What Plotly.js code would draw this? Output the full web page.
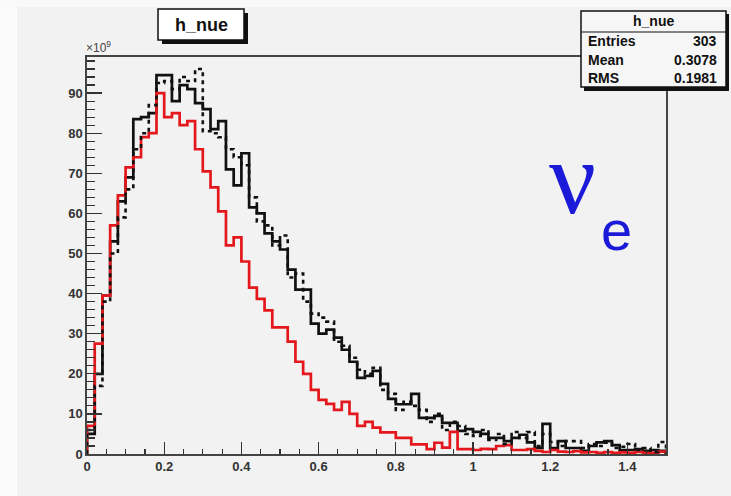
<!DOCTYPE html>
<html>
<head>
<meta charset="utf-8">
<script src="https://cdn.plot.ly/plotly-3.0.1.min.js"></script>
<style>
html,body{margin:0;padding:0;background:#f2f2f2;}
#chart{width:731px;height:496px;}
</style>
</head>
<body>
<div id="chart"></div>
<script>
// ---- data (units of 10^9), 75 bins of width 0.02 from 0 to 1.5 ----
const histName = "h_nue";
const statLabels = ["Entries", "Mean", "RMS"];
const statValues = ["303", "0.3078", "0.1981"];
const xTickLabels = ["0", "0.2", "0.4", "0.6", "0.8", "1", "1.2", "1.4"];
const binWidth = 0.02;
const nBins = 75;
const xMax = 1.5;

const blackSolid = [5, 20, 39.5, 53, 63, 69, 83.5, 84, 85, 94.5,
  94.5, 88, 92, 91, 87.5, 86, 81, 83, 71, 67,
  75, 61.5, 60, 55, 53, 51, 46, 41, 41, 32.5,
  30, 31, 29, 26, 23, 19, 19.5, 20.75, 17.5, 13.75,
  12.4, 12.4, 15, 9, 9, 9.5, 7.75, 7.75, 5.75, 6.2,
  5.5, 5, 4, 4, 3.2, 4, 4.8, 2.9, 1.5, 7.5,
  1.5, 3.2, 1.5, 1.5, 0.8, 2, 2.9, 3.2, 2.2, 1,
  1, 1.2, 0.8, 1, 0.8];

const blackDashed = [6, 17, 38, 50, 59, 66, 76, 80, 87, 92.5,
  93, 91, 94, 93, 96, 80.5, 80, 79, 76, 74,
  72, 64, 58, 57, 52, 54.5, 44, 45, 38, 35,
  34, 33, 28, 27, 24, 21, 20, 21.5, 16, 15,
  11, 13, 12, 11, 8, 10, 6, 8, 7, 5,
  4.5, 6, 3.5, 5, 2.5, 5.5, 4, 5.5, 2, 5,
  3, 2, 3.2, 3.2, 1.5, 2.5, 2, 2.8, 1.5, 1.8,
  2.5, 1, 1.5, 0.5, 3];

const redSolid = [7, 27.5, 39.5, 57, 64.5, 71.5, 74, 79, 80, 90,
  84, 85, 82, 83, 76, 70.5, 66.5, 60.5, 52, 54,
  48, 41.5, 38.7, 35.8, 31.6, 31.6, 28, 23, 20, 16,
  13.5, 12.5, 11, 13, 10, 7, 8, 6.6, 5.4, 5.4,
  4, 4, 2.4, 2.4, 1.2, 2.8, 1.6, 5.5, 1.2, 1.2,
  1, 1.3, 1.2, 2, 2.2, 1, 1, 1.2, 0.8, 0.5,
  1, 0.6, 0.5, 0.7, 0.4, 0.5, 0.3, 0.5, 0.3, 0.4,
  0.3, 0.5, 0.2, 0.3, 0.6];

// ---- helpers ----
const binLow = Array.from({length: nBins}, (_, i) => +(i * binWidth).toFixed(4));
function stepTrace(vals, color, dash, width) {
  const xs = [0].concat(binLow).concat([xMax, xMax]);
  const ys = [0].concat(vals).concat([vals[vals.length - 1], 0]);
  return {
    x: xs, y: ys, type: "scatter", mode: "lines",
    line: {shape: "hv", color: color, width: width, dash: dash},
    hoverinfo: "skip", cliponaxis: true
  };
}

// pixel -> paper conversion for decorations
const L = 87, R = 666, T = 57, B = 454;
const px = v => (v - L) / (R - L);
const py = v => (B - v) / (B - T);

const traces = [
  stepTrace(blackSolid, "#111111", "solid", 2.7),
  stepTrace(redSolid, "#e4181c", "solid", 2.7),
  stepTrace(blackDashed, "#111111", "4px,4px", 2.6)
];

const font = "Liberation Sans, Arial, Helvetica, sans-serif";

const shapes = [
  // whitish photo edges
  {type: "rect", xref: "paper", yref: "paper", x0: px(0), x1: px(17), y0: py(496), y1: py(0),
   fillcolor: "#fbfbfb", line: {width: 0}, layer: "below"},
  {type: "rect", xref: "paper", yref: "paper", x0: px(0), x1: px(731), y0: py(7), y1: py(0),
   fillcolor: "#f9f9f9", line: {width: 0}, layer: "below"},
  // title box shadow + box
  {type: "rect", xref: "paper", yref: "paper", x0: px(162), x1: px(248), y0: py(44), y1: py(13),
   fillcolor: "#111", line: {width: 0}},
  {type: "rect", xref: "paper", yref: "paper", x0: px(158), x1: px(244), y0: py(40), y1: py(9),
   fillcolor: "#ffffff", line: {color: "#111", width: 1.5}},
  // stats box shadow + box
  {type: "rect", xref: "paper", yref: "paper", x0: px(584), x1: px(729), y0: py(91), y1: py(14),
   fillcolor: "#111", line: {width: 0}},
  {type: "rect", xref: "paper", yref: "paper", x0: px(581), x1: px(726), y0: py(87), y1: py(11),
   fillcolor: "#f6f6f6", line: {color: "#111", width: 1.5}},
  {type: "line", xref: "paper", yref: "paper", x0: px(581), x1: px(726), y0: py(32), y1: py(32),
   line: {color: "#111", width: 1.2}}
];

const annotations = [
  {xref: "paper", yref: "paper", x: px(201), y: py(25), text: "<b>" + histName + "</b>",
   showarrow: false, font: {family: font, size: 18, color: "#111"}, xanchor: "center", yanchor: "middle"},
  {xref: "paper", yref: "paper", x: px(653), y: py(21), text: histName,
   showarrow: false, font: {family: font, size: 14, color: "#111", weight: "bold"}, xanchor: "center", yanchor: "middle"},
  {xref: "paper", yref: "paper", x: px(84), y: py(47), text: "×10<sup>9</sup>",
   showarrow: false, font: {family: font, size: 12, color: "#444"}, xanchor: "left", yanchor: "middle"},
  {xref: "paper", yref: "paper", x: px(572), y: py(177), text: "ν",
   showarrow: false, font: {family: "Liberation Serif, DejaVu Serif, serif", size: 104, color: "#1a1ad8"},
   xanchor: "center", yanchor: "middle"},
  {xref: "paper", yref: "paper", x: px(616), y: py(231), text: "e",
   showarrow: false, font: {family: font, size: 56, color: "#1a1ad8"}, xanchor: "center", yanchor: "middle"}
];
const rowY = [41, 60, 78];
statLabels.forEach((lab, i) => {
  annotations.push({xref: "paper", yref: "paper", x: px(586), y: py(rowY[i]), text: lab,
    showarrow: false, font: {family: font, size: 14, color: "#111", weight: "bold"}, xanchor: "left", yanchor: "middle"});
  annotations.push({xref: "paper", yref: "paper", x: px(719), y: py(rowY[i]), text: statValues[i],
    showarrow: false, font: {family: font, size: 14, color: "#111", weight: "bold"}, xanchor: "right", yanchor: "middle"});
});

const tickFont = {family: font, size: 13, color: "#333", weight: "bold"};

const layout = {
  width: 731, height: 496,
  margin: {l: L, r: 731 - R, t: T, b: 496 - B, pad: 0},
  paper_bgcolor: "#f2f2f2", plot_bgcolor: "#f2f2f2",
  showlegend: false,
  xaxis: {
    range: [0, xMax], tickmode: "array",
    tickvals: xTickLabels.map(Number), ticktext: xTickLabels,
    ticks: "inside", ticklen: 12, tickwidth: 1.3, tickcolor: "#333",
    minor: {ticks: "inside", ticklen: 5, dtick: 0.05, tick0: 0, tickwidth: 1.2, tickcolor: "#333", showgrid: false},
    showline: true, linecolor: "#444", linewidth: 1.6, mirror: true,
    showgrid: false, zeroline: false,
    tickfont: tickFont
  },
  yaxis: {
    range: [0, 99], tickmode: "linear", tick0: 0, dtick: 10,
    ticks: "inside", ticklen: 15, tickwidth: 1.3, tickcolor: "#333",
    minor: {ticks: "inside", ticklen: 8, dtick: 2, tick0: 0, tickwidth: 1.2, tickcolor: "#333", showgrid: false},
    showline: true, linecolor: "#444", linewidth: 1.6, mirror: true,
    showgrid: false, zeroline: false,
    tickfont: tickFont
  },
  shapes: shapes,
  annotations: annotations
};

Plotly.newPlot("chart", traces, layout, {staticPlot: true, displayModeBar: false});
</script>
</body>
</html>
